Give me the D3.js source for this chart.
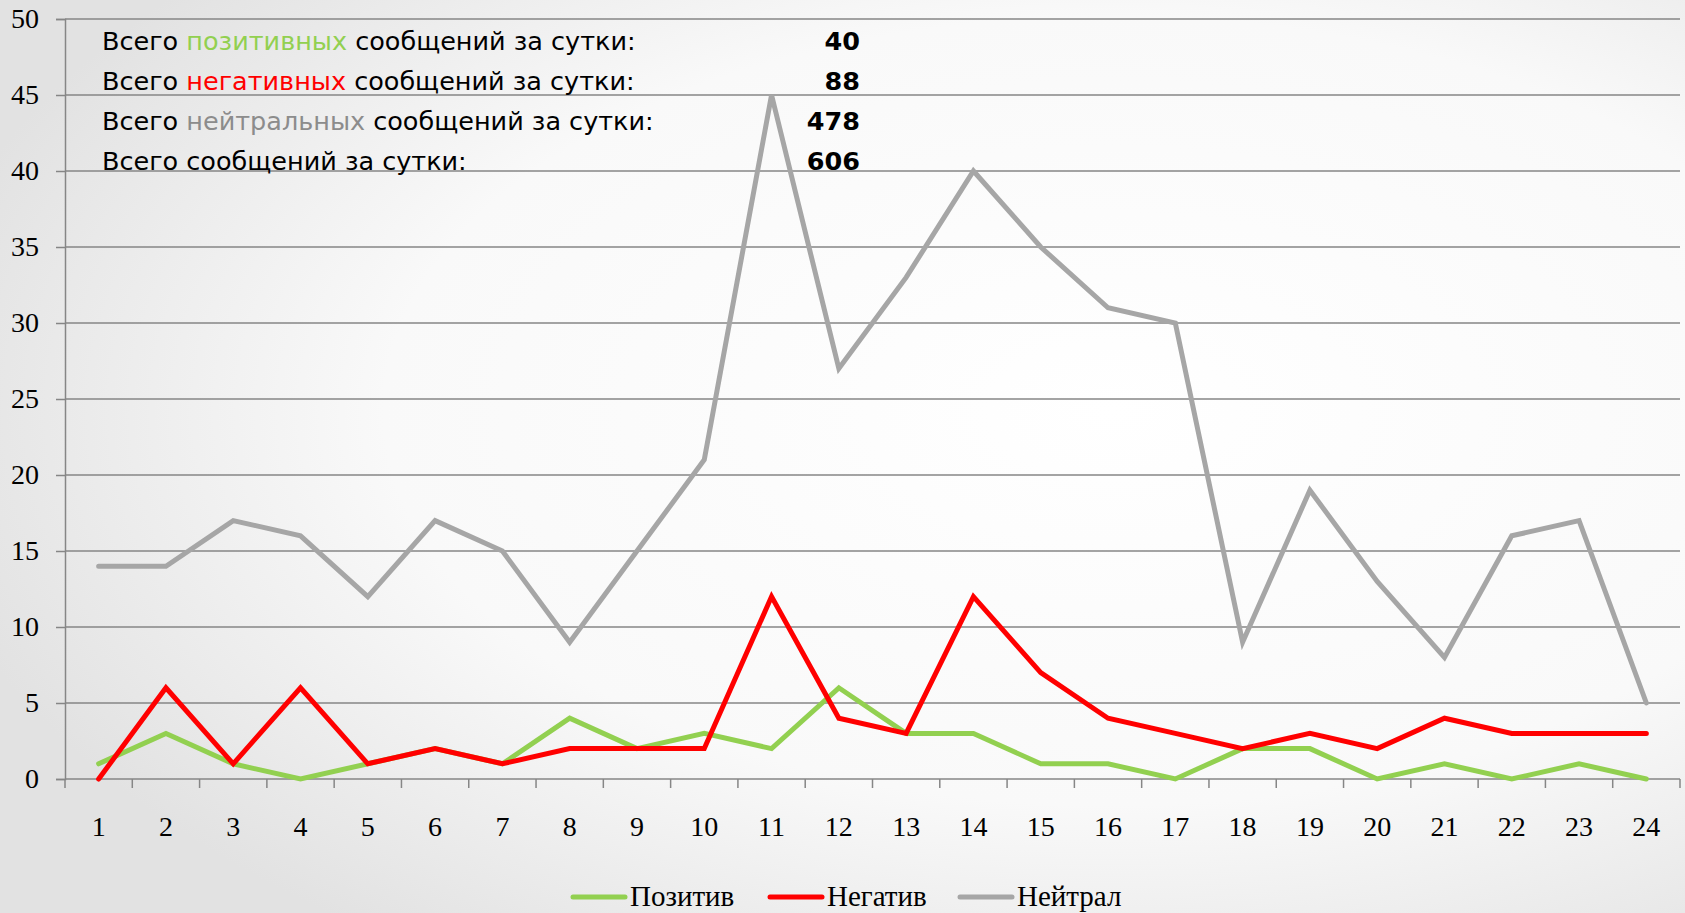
<!DOCTYPE html>
<html>
<head>
<meta charset="utf-8">
<script src="https://cdn.jsdelivr.net/npm/d3@7"></script>
<style>
  html, body { margin: 0; padding: 0; overflow: hidden; }
</style>
</head>
<body>
<div id="chart"></div>
<script>
// hours of the day
const hours = d3.range(1, 25).map(String);
const positive = [1, 3, 1, 0, 1, 2, 1, 4, 2, 3, 2, 6, 3, 3, 1, 1, 0, 2, 2, 0, 1, 0, 1, 0];
const negative = [0, 6, 1, 6, 1, 2, 1, 2, 2, 2, 12, 4, 3, 12, 7, 4, 3, 2, 3, 2, 4, 3, 3, 3];
const neutral = [14, 14, 17, 16, 12, 17, 15, 9, 15, 21, 45, 27, 33, 40, 35, 31, 30, 9, 19, 13, 8, 16, 17, 5];
const seriesNames = ["Позитив", "Негатив", "Нейтрал"];
const seriesColors = ["#92d050", "#ff0000", "#a6a6a6"];
const yTicks = [0, 5, 10, 15, 20, 25, 30, 35, 40, 45, 50];

const series = [positive, negative, neutral];

let width = 1685;
let height = 913;
let margin = { top: 19, right: 5, bottom: 134, left: 65 };
let w = width - margin.left - margin.right;
let h = height - margin.top - margin.bottom;

let svg = d3.select("#chart").append("svg").attr("width", width).attr("height", height);

// background gradient
let defs = svg.append("defs");
let grad = defs.append("radialGradient").attr("id", "bg")
  .attr("cx", "66%").attr("cy", "45%").attr("r", "72%");
grad.append("stop").attr("offset", "0%").attr("stop-color", "#ffffff");
grad.append("stop").attr("offset", "60%").attr("stop-color", "#f9f9f9");
grad.append("stop").attr("offset", "100%").attr("stop-color", "#e2e2e2");
svg.append("rect").attr("width", width).attr("height", height).attr("fill", "url(#bg)");

let x = d3.scaleBand().domain(hours).range([0, w]);
let y = d3.scaleLinear().domain([0, 50]).range([h, 0]);

let g = svg.append("g").attr("transform", "translate(" + margin.left + "," + margin.top + ")");

// gridlines
g.append("g").selectAll("line").data(yTicks.slice(1)).enter().append("line")
  .attr("x1", 0).attr("x2", w)
  .attr("y1", d => y(d)).attr("y2", d => y(d))
  .attr("stroke", "#868686").attr("stroke-width", 1.5);

// y axis
let yAxis = g.append("g").call(d3.axisLeft(y).tickValues(yTicks).tickSize(9).tickPadding(17));
yAxis.select(".domain").attr("stroke", "#868686").attr("stroke-width", 1.5);
yAxis.selectAll(".tick line").attr("stroke", "#868686").attr("stroke-width", 1.5);
yAxis.selectAll("text").style("font-family", "'Liberation Serif', serif").style("font-size", "28px").attr("fill", "#000");

// x axis, ticks between categories
let xAxis = g.append("g").attr("transform", "translate(0," + h + ")")
  .call(d3.axisBottom(x).tickSize(0).tickPadding(37));
xAxis.select(".domain").remove();
xAxis.selectAll("text").style("font-family", "'Liberation Serif', serif").style("font-size", "28px").attr("fill", "#000");
xAxis.append("line").attr("x1", 0).attr("x2", w).attr("stroke", "#868686").attr("stroke-width", 1.5);
xAxis.selectAll(".sep").data(d3.range(hours.length + 1)).enter().append("line")
  .attr("class", "sep")
  .attr("x1", d => d * x.step()).attr("x2", d => d * x.step())
  .attr("y1", 0).attr("y2", 9)
  .attr("stroke", "#868686").attr("stroke-width", 1.5);

// lines
let line = d3.line()
  .x((d, i) => x(hours[i]) + x.bandwidth() / 2)
  .y(d => y(d));

series.forEach((s, k) => {
  g.append("path").datum(s)
    .attr("d", line)
    .attr("fill", "none")
    .attr("stroke", seriesColors[k])
    .attr("stroke-width", 5)
    .attr("stroke-linecap", "round")
    .attr("stroke-linejoin", "miter");
});

// summary text block
const totals = [d3.sum(positive), d3.sum(negative), d3.sum(neutral)];
const summaryRows = [
  { word: "позитивных", color: seriesColors[0], value: totals[0] },
  { word: "негативных", color: seriesColors[1], value: totals[1] },
  { word: "нейтральных", color: "#8c8c8c", value: totals[2] },
  { word: null, color: null, value: d3.sum(totals) }
];
let notes = svg.append("g").style("font-family", "'DejaVu Sans', sans-serif").style("font-size", "25.5px");
summaryRows.forEach((r, i) => {
  let ty = 50 + i * 40;
  let t = notes.append("text").attr("x", 102).attr("y", ty).attr("fill", "#000");
  t.append("tspan").text("Всего ");
  if (r.word) {
    t.append("tspan").attr("fill", r.color).text(r.word);
    t.append("tspan").text(" сообщений за сутки:");
  } else {
    t.append("tspan").text("сообщений за сутки:");
  }
  notes.append("text").attr("x", 860).attr("y", ty).attr("text-anchor", "end")
    .style("font-weight", "bold").text(r.value);
});

// legend
const legendX = [573, 770, 960];
let legend = svg.append("g").attr("transform", "translate(0,897)");
seriesNames.forEach((n, k) => {
  legend.append("line").attr("x1", legendX[k]).attr("x2", legendX[k] + 52)
    .attr("stroke", seriesColors[k]).attr("stroke-width", 5).attr("stroke-linecap", "round");
  legend.append("text").attr("x", legendX[k] + 57).attr("y", 9)
    .style("font-family", "'Liberation Serif', serif").style("font-size", "29px")
    .text(n);
});
</script>
</body>
</html>
